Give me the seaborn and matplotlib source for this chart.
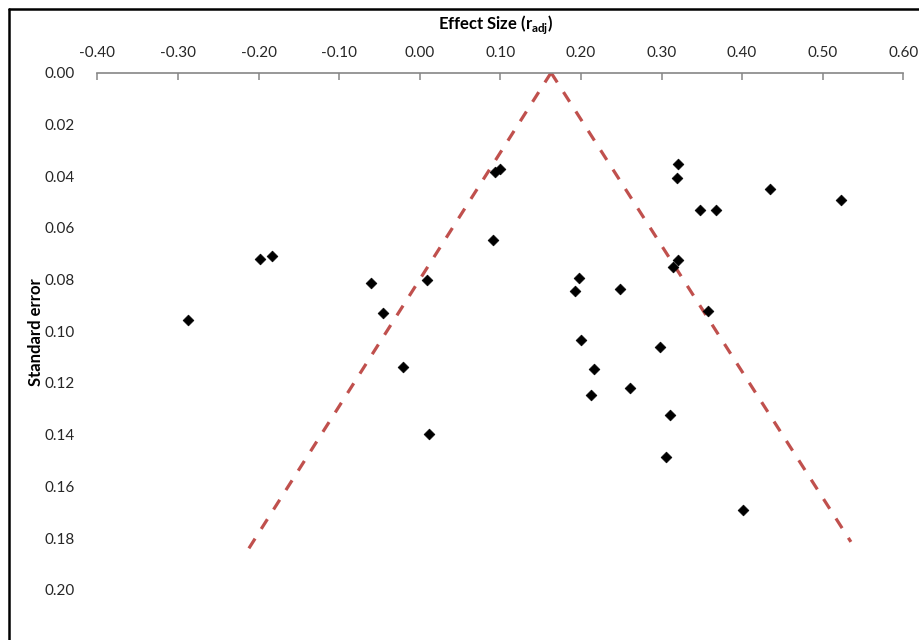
import matplotlib
matplotlib.use("Agg")
import matplotlib.pyplot as plt
from matplotlib.lines import Line2D
import numpy as np
import pandas as pd
import seaborn as sns

# Study-level effect sizes and their standard errors
effect_size = [-0.287, -0.198, -0.183, -0.060, -0.046, 0.009, -0.021, 0.012,
               0.091, 0.093, 0.100, 0.198, 0.193, 0.200, 0.216, 0.213,
               0.249, 0.261, 0.298, 0.311, 0.306, 0.321, 0.319, 0.348,
               0.368, 0.434, 0.523, 0.321, 0.314, 0.358, 0.401]
std_error = [0.0958, 0.0721, 0.0708, 0.0814, 0.0930, 0.0803, 0.1138, 0.1397,
             0.0646, 0.0385, 0.0373, 0.0793, 0.0845, 0.1035, 0.1145, 0.1248,
             0.0838, 0.1221, 0.1061, 0.1323, 0.1488, 0.0352, 0.0407, 0.0530,
             0.0530, 0.0451, 0.0493, 0.0725, 0.0753, 0.0923, 0.1691]

# Funnel boundaries (pooled effect at SE = 0, widening with SE)
funnel_left_x = [0.163, -0.216]
funnel_left_se = [0.0, 0.186]
funnel_right_x = [0.163, 0.535]
funnel_right_se = [0.0, 0.1815]

x_ticks = [-0.40, -0.30, -0.20, -0.10, 0.00, 0.10, 0.20, 0.30, 0.40, 0.50, 0.60]
y_ticks = [0.00, 0.02, 0.04, 0.06, 0.08, 0.10, 0.12, 0.14, 0.16, 0.18, 0.20]

sns.set_theme(style="white")
plt.rcParams["font.family"] = ["Lato", "DejaVu Sans"]
plt.rcParams["mathtext.fontset"] = "custom"
plt.rcParams["mathtext.rm"] = "Lato"
plt.rcParams["mathtext.bf"] = "Lato:bold"

W, H = 919, 640
fig = plt.figure(figsize=(W / 100, H / 100), dpi=100)
fig.patch.set_facecolor("white")

left_px, right_px, top_px, bottom_px = 97.3, 903.3, 72.7, 641.4
ax = fig.add_axes([left_px / W, 1 - bottom_px / H,
                   (right_px - left_px) / W, (bottom_px - top_px) / H])

red = "#C0504D"
dash_kw = dict(color=red, linewidth=2.3, dashes=(3.6, 3.6), legend=False)
sns.lineplot(data=pd.DataFrame({"x": funnel_left_x, "se": funnel_left_se}),
             x="x", y="se", sort=False, ax=ax, **dash_kw)
sns.lineplot(data=pd.DataFrame({"x": funnel_right_x, "se": funnel_right_se}),
             x="x", y="se", sort=False, ax=ax, **dash_kw)

studies = pd.DataFrame({"effect": effect_size, "se": std_error})
sns.scatterplot(data=studies, x="effect", y="se", marker="D", s=30,
                color="black", edgecolor="black", linewidth=0.5, ax=ax, zorder=3)

ax.set_xlim(-0.40, 0.60)
ax.set_ylim(0.22, 0.0)
ax.xaxis.tick_top()
ax.set_xticks(x_ticks)
ax.set_xticklabels([f"{v:.2f}" for v in x_ticks])
ax.set_yticks(y_ticks)
ax.set_yticklabels([f"{v:.2f}" for v in y_ticks])
ax.tick_params(axis="x", which="both", top=True, bottom=False, direction="in",
               length=5, width=1.1, color="#868686", pad=9,
               labelsize=11, labelcolor="#262626")
ax.tick_params(axis="y", left=False, right=False, pad=10,
               labelsize=11, labelcolor="#262626")
for side in ["left", "right", "bottom"]:
    ax.spines[side].set_visible(False)
ax.spines["top"].set_color("#868686")
ax.spines["top"].set_linewidth(1.2)
ax.set_xlabel("")
ax.set_ylabel("")
ax.grid(False)

fig.text(496 / W, 1 - 25 / H, r"Effect Size (r$_{\mathbf{adj}}$)",
         ha="center", va="center", fontsize=12, fontweight="bold", color="black")
fig.text(36 / W, 1 - 332 / H, "Standard error", rotation=90,
         ha="center", va="center", fontsize=12, fontweight="bold", color="black")

# outer chart frame
fig.add_artist(Line2D([8.5 / W, 8.5 / W], [1 - 8.5 / H, -0.01],
                      color="black", linewidth=1.8, transform=fig.transFigure))
fig.add_artist(Line2D([8.5 / W, 1.01], [1 - 8.5 / H, 1 - 8.5 / H],
                      color="black", linewidth=1.8, transform=fig.transFigure))

fig.savefig("out.png", dpi=100, facecolor="white")
